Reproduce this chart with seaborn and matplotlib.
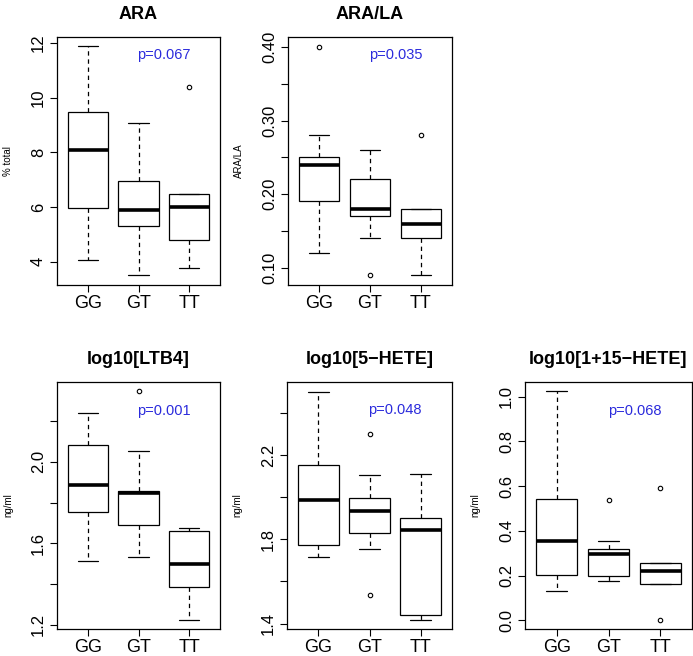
import pandas as pd
import numpy as np
import matplotlib
matplotlib.use("Agg")
import matplotlib.pyplot as plt
import seaborn as sns

# genotype groups
genotypes = ["GG", "GT", "TT"]

# ARA (% total)
ara_gg = [4.06, 5.20, 5.98, 7.10, 8.09, 8.80, 9.47, 10.60, 11.88]
ara_gt = [3.50, 4.60, 5.31, 5.60, 5.89, 6.40, 6.96, 7.90, 9.07]
ara_tt = [3.76, 4.30, 4.80, 5.50, 5.99, 6.30, 6.47, 6.47, 10.39]

# ARA/LA ratio
ratio_gg = [0.12, 0.16, 0.19, 0.22, 0.24, 0.245, 0.25, 0.28, 0.40]
ratio_gt = [0.09, 0.14, 0.17, 0.175, 0.18, 0.20, 0.22, 0.24, 0.26]
ratio_tt = [0.09, 0.12, 0.14, 0.15, 0.16, 0.17, 0.18, 0.18, 0.28]

# log10[LTB4] (ng/ml)
ltb4_gg = [1.515, 1.65, 1.752, 1.82, 1.887, 1.98, 2.085, 2.16, 2.238]
ltb4_gt = [1.534, 1.62, 1.690, 1.78, 1.849, 1.853, 1.857, 2.054, 2.349]
ltb4_tt = [1.224, 1.30, 1.385, 1.44, 1.500, 1.58, 1.661, 1.67, 1.677]

# log10[5-HETE] (ng/ml)
hete5_gg = [1.715, 1.75, 1.775, 1.88, 1.986, 2.08, 2.154, 2.35, 2.500]
hete5_gt = [1.537, 1.753, 1.828, 1.88, 1.934, 1.97, 1.999, 2.108, 2.301]
hete5_tt = [1.417, 1.43, 1.442, 1.70, 1.843, 1.87, 1.901, 2.00, 2.113]

# log10[1+15-HETE] (ng/ml)
hete15_gg = [0.133, 0.17, 0.201, 0.28, 0.355, 0.45, 0.542, 0.80, 1.025]
hete15_gt = [0.175, 0.19, 0.200, 0.25, 0.297, 0.31, 0.319, 0.354, 0.540]
hete15_tt = [0.0, 0.164, 0.164, 0.19, 0.221, 0.24, 0.255, 0.255, 0.590]

p_values = ["p=0.067", "p=0.035", "p=0.001", "p=0.048", "p=0.068"]

sns.set_style("ticks")
plt.rcParams['font.family'] = ['Liberation Sans', 'DejaVu Sans']
plt.rcParams['text.color'] = 'black'
plt.rcParams['axes.labelcolor'] = 'black'
plt.rcParams['xtick.color'] = 'black'
plt.rcParams['ytick.color'] = 'black'

fig = plt.figure(figsize=(6.93, 6.56), dpi=100)
W, H = 693, 656


def make_ax(left, top, right, bottom):
    return fig.add_axes([left / W, 1 - bottom / H, (right - left) / W, (bottom - top) / H])


def to_frame(gg, gt, tt):
    rows = []
    for g, vals in zip(genotypes, [gg, gt, tt]):
        for v in vals:
            rows.append({"genotype": g, "value": v})
    return pd.DataFrame(rows)


def draw_panel(ax, df, title, ylabel, ylim, yticks, ylabels, ptext, py):
    sns.boxplot(data=df, x="genotype", y="value", order=genotypes, ax=ax,
                color="white", linecolor="black", linewidth=0.9, width=0.8,
                whiskerprops={"linestyle": (0, (3.5, 3))},
                medianprops={"linewidth": 2.6},
                flierprops={"marker": "o", "markersize": 3.2, "markerfacecolor": "none",
                            "markeredgecolor": "black", "markeredgewidth": 0.8})
    ax.set_xlim(-0.61, 2.61)
    ax.set_ylim(*ylim)
    ax.set_yticks(yticks)
    ax.set_yticklabels(ylabels, rotation=90, va="center", fontsize=12)
    ax.set_xticks([0, 1, 2])
    ax.set_xticklabels(genotypes, fontsize=13)
    ax.tick_params(axis="both", direction="out", length=5, width=0.8, color="black")
    ax.tick_params(axis="y", pad=3)
    ax.tick_params(axis="x", pad=2)
    for s in ax.spines.values():
        s.set_visible(True)
        s.set_linewidth(0.9)
        s.set_color("black")
    ax.set_xlabel("")
    ax.set_ylabel(ylabel, fontsize=7)
    ax.yaxis.set_label_coords(-0.27, 0.5)
    ax.set_title(title, fontsize=13, fontweight="bold", pad=13, color="black")
    ax.text(1.5, py, ptext, transform=ax.get_xaxis_transform(), color="#2b2bdc",
            fontsize=10.5, ha="center", va="center")


ax1 = make_ax(57, 37, 220, 285)
draw_panel(ax1, to_frame(ara_gg, ara_gt, ara_tt), "ARA", "% total",
           (3.15, 12.22), [4, 6, 8, 10, 12], ["4", "6", "8", "10", "12"],
           p_values[0], 0.927)

ax2 = make_ax(288, 37, 452, 285)
draw_panel(ax2, to_frame(ratio_gg, ratio_gt, ratio_tt), "ARA/LA", "ARA/LA",
           (0.0765, 0.4136), [0.10, 0.15, 0.20, 0.25, 0.30, 0.35, 0.40],
           ["0.10", "", "0.20", "", "0.30", "", "0.40"],
           p_values[1], 0.927)

ax3 = make_ax(57, 382, 220, 629)
draw_panel(ax3, to_frame(ltb4_gg, ltb4_gt, ltb4_tt), "log10[LTB4]", "ng/ml",
           (1.179, 2.392), [1.2, 1.4, 1.6, 1.8, 2.0, 2.2],
           ["1.2", "", "1.6", "", "2.0", ""],
           p_values[2], 0.884)

ax4 = make_ax(287, 382, 452, 629)
draw_panel(ax4, to_frame(hete5_gg, hete5_gt, hete5_tt), "log10[5\u2212HETE]", "ng/ml",
           (1.374, 2.548), [1.4, 1.6, 1.8, 2.0, 2.2, 2.4],
           ["1.4", "", "1.8", "", "2.2", ""],
           p_values[3], 0.887)

ax5 = make_ax(525, 382, 692, 629)
draw_panel(ax5, to_frame(hete15_gg, hete15_gt, hete15_tt), "log10[1+15\u2212HETE]", "ng/ml",
           (-0.039, 1.066), [0.0, 0.2, 0.4, 0.6, 0.8, 1.0],
           ["0.0", "0.2", "0.4", "0.6", "0.8", "1.0"],
           p_values[4], 0.884)

fig.savefig("out.png", dpi=100)
